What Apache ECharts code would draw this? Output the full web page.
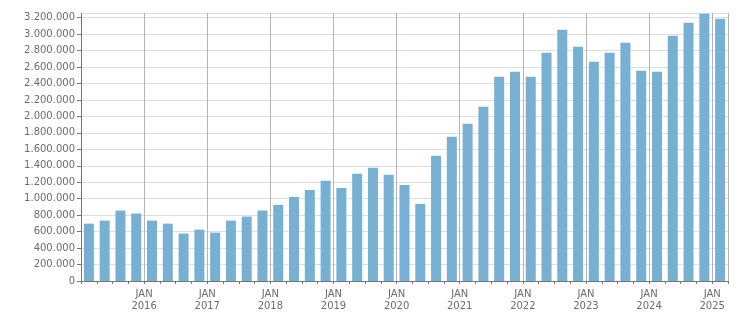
<!DOCTYPE html>
<html>
<head>
<meta charset="utf-8">
<script src="https://cdn.jsdelivr.net/npm/echarts@6/dist/echarts.min.js"></script>
<style>html,body{margin:0;padding:0;background:#fff}#c{width:751px;height:313px}</style>
</head>
<body>
<div id="c"></div>
<script>
const categories = [
  '2015 Q1','2015 Q2','2015 Q3','2015 Q4',
  '2016 Q1','2016 Q2','2016 Q3','2016 Q4',
  '2017 Q1','2017 Q2','2017 Q3','2017 Q4',
  '2018 Q1','2018 Q2','2018 Q3','2018 Q4',
  '2019 Q1','2019 Q2','2019 Q3','2019 Q4',
  '2020 Q1','2020 Q2','2020 Q3','2020 Q4',
  '2021 Q1','2021 Q2','2021 Q3','2021 Q4',
  '2022 Q1','2022 Q2','2022 Q3','2022 Q4',
  '2023 Q1','2023 Q2','2023 Q3','2023 Q4',
  '2024 Q1','2024 Q2','2024 Q3','2024 Q4',
  '2025 Q1'
];
const values = [
  697000, 734000, 856000, 820000,
  734000, 697000, 576000, 624000,
  588000, 734000, 783000, 856000,
  925000, 1022000, 1107000, 1217000,
  1131000, 1302000, 1375000, 1290000,
  1168000, 937000, 1521000, 1752000,
  1910000, 2117000, 2482000, 2543000,
  2482000, 2774000, 3054000, 2847000,
  2665000, 2774000, 2896000, 2555000,
  2543000, 2981000, 3139000, 3249000,
  3188000
];
const yTickStep = 200000;
const yMax = 3257000;

function fmt(v){ return String(Math.round(v)).replace(/\B(?=(\d{3})+(?!\d))/g, '.'); }

const chart = echarts.init(document.getElementById('c'), null, {renderer:'canvas'});
const txt = {color:'#6b6b72', fontFamily:'DejaVu Sans', fontSize:10};
chart.setOption({
  animation:false,
  grid:{left:81, right:23, top:13, bottom:32, show:false},
  xAxis:[{
    type:'category', data:categories, boundaryGap:true,
    axisLine:{show:true, lineStyle:{color:'#777', width:1}},
    axisTick:{show:true, interval:0, length:3, lineStyle:{color:'#777'}},
    axisLabel:{show:false}, splitLine:{show:false}
  },{
    type:'value', min:0, max:categories.length, interval:4, position:'bottom',
    axisLine:{show:false}, axisTick:{show:false},
    splitLine:{show:true, lineStyle:{color:'#b4b4b4', width:1}},
    axisLabel:{show:true, showMinLabel:false, showMaxLabel:false, margin:7, lineHeight:12,
      color:txt.color, fontFamily:txt.fontFamily, fontSize:txt.fontSize,
      formatter:function(v){ const c = categories[v]; return c ? 'JAN\n' + c.slice(0,4) : ''; }}
  }],
  yAxis:{
    type:'value', min:0, max:yMax, interval:yTickStep,
    axisLine:{show:true, lineStyle:{color:'#777'}},
    axisTick:{show:true, length:4, lineStyle:{color:'#777'}},
    splitLine:{show:true, lineStyle:{color:'#dedede', width:1}},
    axisLabel:{showMaxLabel:false, margin:6, color:txt.color, fontFamily:txt.fontFamily, fontSize:txt.fontSize,
      formatter:fmt}
  },
  series:[{
    type:'bar', xAxisIndex:0, data:values, barWidth:10,
    itemStyle:{color:'#78b0d3'}, z:3
  }]
});
</script>
</body>
</html>
